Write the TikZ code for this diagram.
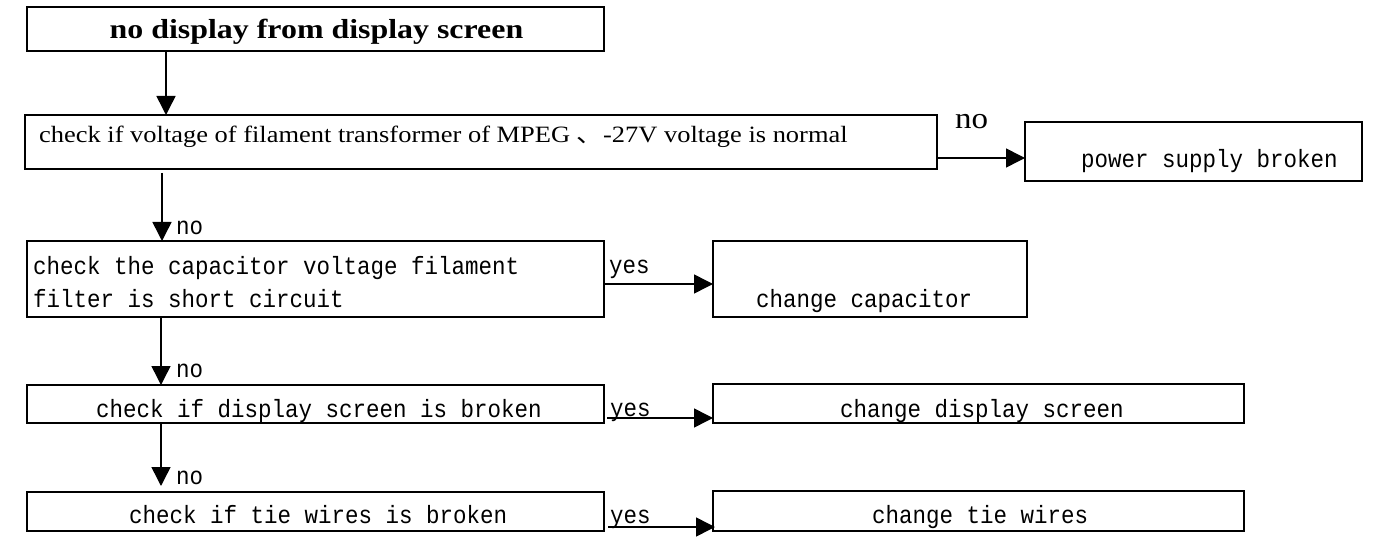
\documentclass[tikz,border=0pt]{standalone}
\usepackage{fontspec}
\setmainfont{Liberation Serif}
\newfontfamily\monof{Liberation Mono}[FakeStretch=0.9]
\newfontfamily\cjkf{Noto Sans CJK SC}
\usetikzlibrary{arrows.meta}
\tikzset{
  box/.style={draw, line width=2.2pt, anchor=north west, inner sep=0pt, outer sep=0pt},
  flow/.style={line width=1.5pt, -{Triangle[length=19pt,width=19pt]}},
  mtext/.style={anchor=base west, inner sep=0pt, font=\monof\fontsize{25pt}{29pt}\selectfont},
  stext/.style={anchor=base west, inner sep=0pt, font=\fontsize{23.4pt}{28pt}\selectfont},
}
\begin{document}
\begin{tikzpicture}[x=1pt,y=-1pt]
\useasboundingbox (0,0) rectangle (1382,540);
% boxes
\node[box, minimum width=577pt, minimum height=44pt] (b1) at (27,7) {};
\node[box, minimum width=912pt, minimum height=54pt] (b2) at (25,115) {};
\node[box, minimum width=337pt, minimum height=59pt] (b3) at (1025,122) {};
\node[box, minimum width=577pt, minimum height=76pt] (b4) at (27,241) {};
\node[box, minimum width=314pt, minimum height=76pt] (b5) at (713,241) {};
\node[box, minimum width=577pt, minimum height=38pt] (b6) at (27,385) {};
\node[box, minimum width=531pt, minimum height=39pt] (b7) at (713,384) {};
\node[box, minimum width=577pt, minimum height=39pt] (b8) at (27,492) {};
\node[box, minimum width=531pt, minimum height=40pt] (b9) at (713,491) {};
% texts
\node[anchor=base, inner sep=0pt, font=\bfseries\fontsize{27.5pt}{30pt}\selectfont] (t1) at (316.5,39) {\scalebox{1.16}[1]{no display from display screen}};
\node[stext] (t2) at (39,143) {\scalebox{1.13}[1]{check if voltage of filament transformer of MPEG {\cjkf 、}-27V voltage is normal}};
\node[mtext] (t3) at (1081,168) {power supply broken};
\node[mtext] (t4a) at (33,275) {check the capacitor voltage filament};
\node[mtext] (t4b) at (33,308) {filter is short circuit};
\node[mtext] (t5) at (756,307) {change capacitor};
\node[mtext] (t6) at (96,417) {check if display screen is broken};
\node[mtext] (t7) at (840,417) {change display screen};
\node[mtext] (t8) at (129,523) {check if tie wires is broken};
\node[mtext] (t9) at (872,523) {change tie wires};
% connectors
\draw[flow] ([xshift=139pt]b1.south west) -- ([xshift=141pt]b2.north west);
\draw[flow] ([xshift=137pt,yshift=-4pt]b2.south west) -- ([xshift=135pt]b4.north west);
\draw[flow] ([xshift=134pt]b4.south west) -- ([xshift=134pt]b6.north west);
\draw[flow] ([xshift=134pt]b6.south west) -- ([xshift=134pt,yshift=6pt]b8.north west);
\draw[flow] ([yshift=11pt]b2.south east) -- ([yshift=23pt]b3.south west);
\draw[flow] ([yshift=33pt]b4.south east) -- ([yshift=33pt]b5.south west);
\draw[flow] ([xshift=3pt,yshift=5pt]b6.south east) -- ([yshift=5pt]b7.south west);
\draw[flow] ([xshift=4pt,yshift=4pt]b8.south east) -- ([xshift=2pt,yshift=4pt]b9.south west);
% labels
\node[anchor=base west, inner sep=0pt, font=\fontsize{30pt}{34pt}\selectfont] (l1) at (955,129) {\scalebox{1.1}[1]{no}};
\node[mtext] (l2) at (176,235) {no};
\node[mtext] (l3) at (176,377) {no};
\node[mtext] (l4) at (176,484) {no};
\node[mtext] (l5) at (609,273) {yes};
\node[mtext] (l6) at (610,416) {yes};
\node[mtext] (l7) at (610,523) {yes};
\end{tikzpicture}
\end{document}
